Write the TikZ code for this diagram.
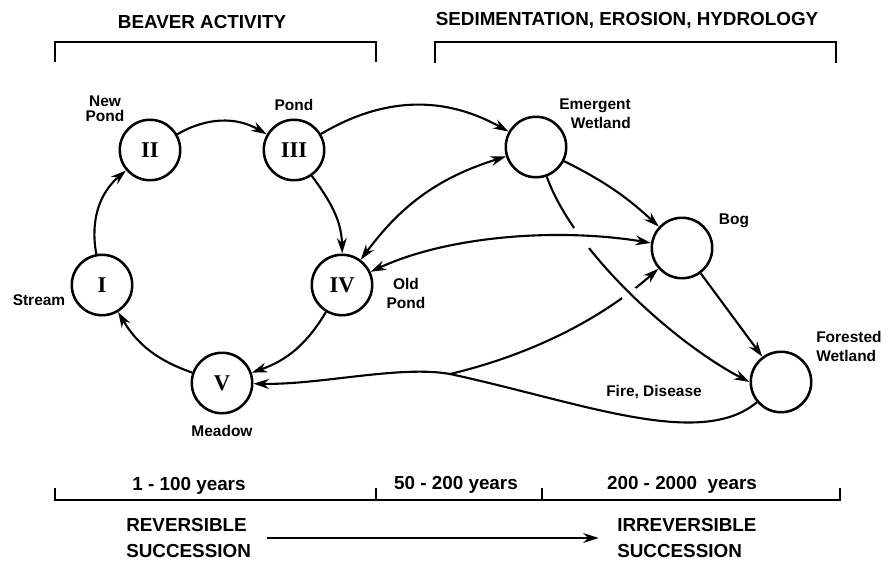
\documentclass[tikz,border=0pt]{standalone}
\usepackage{fontspec}
\setmainfont{Liberation Sans}
\newfontfamily\numfont{Liberation Serif}
\usetikzlibrary{arrows.meta}
\tikzset{
    stage/.style={circle, draw, line width=1.8pt, minimum size=43pt, inner sep=0pt, font=\numfont\bfseries\fontsize{16}{16}\selectfont},
    lbl/.style={font=\bfseries\fontsize{11}{13.5}\selectfont, align=center, inner sep=0pt},
    head/.style={font=\bfseries\fontsize{13.4}{18.5}\selectfont, inner sep=0pt},
    arr/.style={line width=1.5pt, -{Stealth[length=11pt,width=7pt]}},
    darr/.style={line width=1.5pt, {Stealth[length=11pt,width=7pt]}-{Stealth[length=11pt,width=7pt]}},
    brace/.style={line width=1.8pt},
}
\begin{document}
\begin{tikzpicture}[x=0.025cm, y=-0.025cm]
    \useasboundingbox (0,0) rectangle (895,560);
    \node[head] (beaver) at (202,22) {BEAVER ACTIVITY};
    \node[head] (sedim) at (627,20) {SEDIMENTATION, EROSION, HYDROLOGY};
    \draw[brace] (55,62) -- (55,42) -- (376,42) -- (376,62);
    \draw[brace] (435,63) -- (435,42) -- (836,42) -- (836,63);

    \node[stage] (I) at (102,285) {I};
    \node[stage] (II) at (150,150) {II};
    \node[stage] (III) at (294,150) {III};
    \node[stage] (IV) at (342,285) {IV};
    \node[stage] (V) at (222,383) {V};
    \node[stage] (EW) at (536,147) {};
    \node[stage] (Bog) at (682,248) {};
    \node[stage] (FW) at (781,382) {};

    \node[lbl] (newpond) at (105,109) {New\\[-3pt]Pond};
    \node[lbl] (pond) at (294,105) {Pond};
    \node[lbl] (stream) at (39,300) {Stream};
    \node[lbl] (oldpond) at (406,293) {Old\\Pond};
    \node[lbl] (meadow) at (222,431) {Meadow};
    \node[lbl, align=right, anchor=east] (emergent) at (631,114) {Emergent\\Wetland};
    \node[lbl] (bog) at (734,221) {Bog};
    \node[lbl, align=left, anchor=west] (forested) at (816,346) {Forested\\Wetland};
    \node[lbl] (fire) at (654,392) {Fire, Disease};

    \draw[arr] (I) to[bend left=30] (II);
    \draw[arr] (II) to[bend left=30] (III);
    \draw[arr] (III) to[out=15, in=160, relative] (IV);
    \draw[arr] (IV) to[bend left=20] (V);
    \draw[arr] (V) to[bend left=20] (I);

    \draw[arr] (III) to[bend left=30] (EW);
    \draw[darr] (IV) to[bend left=18] (EW);
    \draw[arr] (EW) to[bend left=8] (Bog);
    \draw[arr] (Bog) -- (FW);

    \coordinate (fork) at (450,374);
    \coordinate (gapA) at (583,237);
    \coordinate (gapB) at (631,296);
    \draw[arr] (FW) .. controls (700,450) and (580,402) .. (fork) .. controls (400,365) and (320,385) .. (V);
    \draw[arr] (fork) .. controls (530,355) and (600,320) .. (Bog);
    \fill[white] (gapB) circle (6.5pt);
    \draw[arr] (EW.-70) .. controls (574,253) and (676,344) .. (FW.west);
    \fill[white] (gapA) circle (9pt);
    \draw[darr] (IV) .. controls (450,235) and (560,228) .. (Bog);

    \draw[brace] (55,488) -- (55,500) -- (840,500) -- (840,488);
    \draw[brace] (376,500) -- (376,488);
    \draw[brace] (542,500) -- (542,488);
    \node[head] (yrsA) at (189,486) {1 - 100 years};
    \node[head] (yrsB) at (456,485) {50 - 200 years};
    \node[head] (yrsC) at (682,485) {200 - 2000\ \ years};
    \node[head, align=left, anchor=west] (rev) at (126,538) {REVERSIBLE\\SUCCESSION};
    \node[head, align=left, anchor=west] (irrev) at (617,538) {IRREVERSIBLE\\SUCCESSION};
    \draw[arr, shorten <=11pt, shorten >=13pt] (rev) -- (irrev);
\end{tikzpicture}
\end{document}
